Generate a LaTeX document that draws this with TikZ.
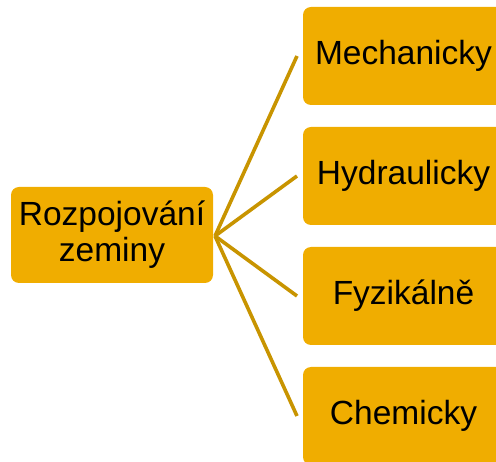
\documentclass[tikz,border=0pt]{standalone}
\usepackage{fontspec}
\setmainfont{Liberation Sans}
\definecolor{boxgold}{RGB}{240,173,0}
\definecolor{linegold}{RGB}{200,148,0}
\begin{document}
\begin{tikzpicture}[x=1pt,y=-1pt,
  gbox/.style={fill=boxgold, rounded corners=8pt, inner sep=0pt, align=center,
    font=\fontsize{33.5}{36}\selectfont, text=black},
  conn/.style={draw=linegold, line width=3.6pt}]
\clip (0,0) rectangle (496,462);
\node[gbox, minimum width=202pt, minimum height=96pt] (root) at (112,235) {Rozpojování\\zeminy};
\node[gbox, minimum width=201pt, minimum height=98pt] (m) at (403.5,56) {Mechanicky};
\node[gbox, minimum width=201pt, minimum height=98pt] (h) at (403.5,176) {Hydraulicky};
\node[gbox, minimum width=201pt, minimum height=98pt] (f) at (403.5,296) {Fyzikálně};
\node[gbox, minimum width=201pt, minimum height=98pt] (c) at (403.5,416) {Chemicky};
\coordinate (em) at (297,56);
\coordinate (eh) at (297,176);
\coordinate (ef) at (297,296);
\coordinate (ec) at (297,416);
\coordinate (o) at (215,236);
\draw[conn] (o) -- (em);
\draw[conn] (o) -- (eh);
\draw[conn] (o) -- (ef);
\draw[conn] (o) -- (ec);
\end{tikzpicture}
\end{document}
